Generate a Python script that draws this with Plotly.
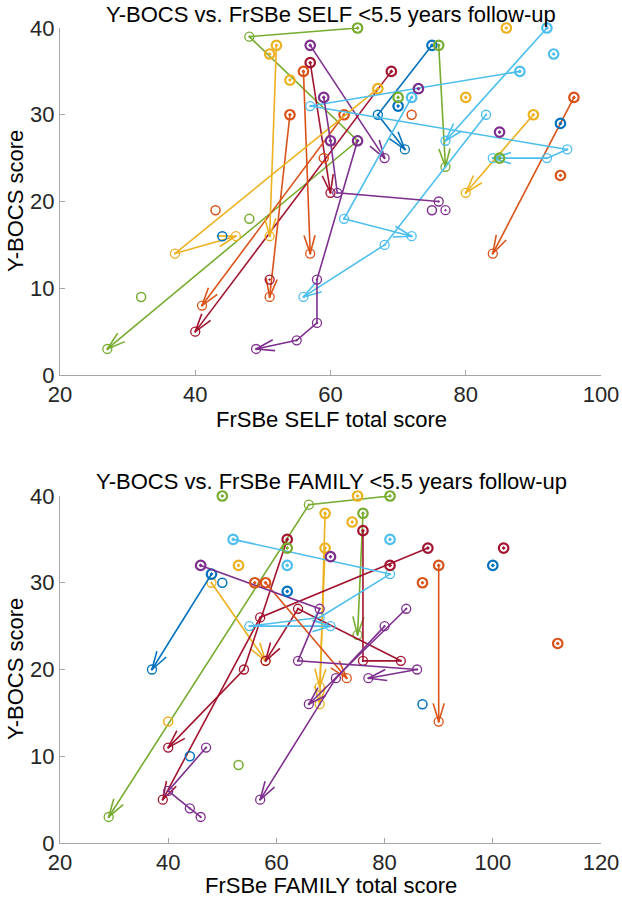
import math
import plotly.graph_objects as go

# ---------------- colours (MATLAB default order) ----------------
PALETTE = {
    "blue": "#0072BD", "orange": "#D95319", "yellow": "#EDB120",
    "purple": "#7E2F8E", "green": "#77AC30", "lblue": "#4DBEEE", "dred": "#A2142F",
}

# ---------------- top panel: FrSBe SELF ----------------
top_track_x = [[64, 48, 64, 27], [57, 68], [57, 60], [69, 40], [56, 57], [54, 51], [62, 41], [96, 84],
               [52, 51], [67, 37, 46], [90, 80], [75, 67, 71], [76, 77], [88, 57, 95, 92, 84],
               [92, 77], [72, 62, 72], [83, 68, 56], [64, 58, 58, 55, 49], [59, 60, 61, 76]]
top_track_y = [[40, 39, 27, 3], [38, 25], [36, 21], [35, 5], [35, 14], [30, 9], [30, 8], [32, 14],
               [38, 16], [33, 14, 16], [30, 21], [38, 30, 26], [38, 24], [35, 31, 26, 25, 25],
               [40, 27], [32, 18, 16], [30, 15, 9], [27, 11, 6, 4, 3], [32, 27, 21, 20]]
top_track_color = ["green", "purple", "dred", "dred", "orange", "orange", "orange", "orange",
                   "yellow", "yellow", "yellow", "blue", "green", "lblue",
                   "lblue", "lblue", "lblue", "purple", "purple"]
top_track_arrow = [True] * 18 + [False]
top_track_style = ["bttt", "bt", "bt", "bt", "bt", "bt", "bt", "bt",
                   "bt", "btt", "bt", "btt", "bt", "btttt",
                   "bt", "btt", "ttt", "btttt", "bbtt"]

top_single_x = [51, 54, 86, 80, 72, 43, 94, 59, 51, 75, 77, 73, 85, 70, 94, 44, 70, 85, 48, 32, 93]
top_single_y = [37, 34, 40, 32, 30, 19, 23, 25, 11, 19, 19, 33, 28, 31, 29, 16, 32, 25, 18, 9, 37]
top_single_color = ["yellow", "yellow", "yellow", "yellow", "orange", "orange", "orange", "orange",
                    "dred", "purple", "purple", "purple", "purple", "blue", "blue", "blue",
                    "green", "green", "green", "green", "lblue"]
top_single_style = "bbbboobototbbbbobboob"

# ---------------- bottom panel: FrSBe FAMILY ----------------
bot_track_x = [[81, 66, 29], [76, 75], [69, 68], [69, 68], [48, 58], [76, 76, 83, 64, 58],
               [88, 57, 39], [62, 54, 40], [52, 81, 68, 55, 70], [48, 37], [58, 73], [90, 90],
               [46, 68, 64, 86, 77], [84, 66], [80, 71, 57], [47, 40, 44, 46]]
bot_track_y = [[40, 39, 3], [38, 24], [38, 16], [34, 18], [30, 21], [36, 21, 21, 27, 21],
               [34, 26, 5], [35, 20, 11], [35, 31, 26, 25, 25], [31, 20], [30, 19], [32, 14],
               [32, 27, 21, 20, 19], [27, 16], [25, 19, 5], [11, 6, 4, 3]]
bot_track_color = ["green", "green", "yellow", "yellow", "yellow", "dred",
                   "dred", "dred", "lblue", "blue", "orange", "orange",
                   "purple", "purple", "purple", "purple"]
bot_track_arrow = [True] * 15 + [False]
bot_track_style = ["btt", "bt", "bt", "bt", "tt", "btttt",
                   "btt", "btt", "btttt", "bt", "bt", "bt",
                   "btttt", "tt", "ttt", "tttt"]

bot_single_x = [50, 62, 53, 75, 74, 53, 40, 81, 102, 81, 62, 62, 100, 50, 44, 87, 56, 87, 112, 70]
bot_single_y = [40, 34, 9, 40, 37, 32, 14, 32, 34, 35, 32, 29, 32, 30, 10, 16, 30, 30, 23, 33]
bot_single_color = ["green", "green", "green", "yellow", "yellow", "yellow", "yellow", "dred", "dred",
                    "lblue", "lblue", "blue", "blue", "blue", "blue", "blue",
                    "orange", "orange", "orange", "purple"]
bot_single_style = "bbobbbobbbbbbooobbbb"

# ---------------- layout geometry ----------------
W, H = 622, 900
ML, MR, MT, MB = 60, 21, 28, 57
PW, PH = W - ML - MR, H - MT - MB
AX_H = 347
top_dom = [1 - AX_H / PH, 1.0]
bot_dom = [0.0, AX_H / PH]

panels = [
    dict(tx=top_track_x, ty=top_track_y, tc=top_track_color, ta=top_track_arrow, ts=top_track_style,
         sx=top_single_x, sy=top_single_y, sc=top_single_color, ss=top_single_style,
         xr=[20, 100], yr=[0, 40], xa="x", ya="y"),
    dict(tx=bot_track_x, ty=bot_track_y, tc=bot_track_color, ta=bot_track_arrow, ts=bot_track_style,
         sx=bot_single_x, sy=bot_single_y, sc=bot_single_color, ss=bot_single_style,
         xr=[20, 120], yr=[0, 40], xa="x2", ya="y2"),
]

STYLE = {
    "b": dict(symbol="circle-open-dot", size=9.5, width=2.2),
    "t": dict(symbol="circle-open-dot", size=9, width=1.3),
    "o": dict(symbol="circle-open", size=9, width=1.5),
}

HEAD_LEN = 19.0
HEAD_ANG = math.radians(17)

fig = go.Figure()

for p in panels:
    kx = PW / (p["xr"][1] - p["xr"][0])
    ky = AX_H / (p["yr"][1] - p["yr"][0])
    for xs, ys, c, arr, st in zip(p["tx"], p["ty"], p["tc"], p["ta"], p["ts"]):
        col = PALETTE[c]
        fig.add_trace(go.Scatter(
            x=xs, y=ys, mode="lines", line=dict(color=col, width=1.6),
            xaxis=p["xa"], yaxis=p["ya"], cliponaxis=False, hoverinfo="skip"))
        for s in "bto":
            idx = [i for i, ch in enumerate(st) if ch == s]
            if not idx:
                continue
            fig.add_trace(go.Scatter(
                x=[xs[i] for i in idx], y=[ys[i] for i in idx], mode="markers",
                marker=dict(symbol=STYLE[s]["symbol"], size=STYLE[s]["size"], color=col,
                            line=dict(color=col, width=STYLE[s]["width"])),
                xaxis=p["xa"], yaxis=p["ya"], cliponaxis=False))
        if arr:
            x0, y0, x1, y1 = xs[-2], ys[-2], xs[-1], ys[-1]
            dx, dy = (x1 - x0) * kx, (y1 - y0) * ky
            n = math.hypot(dx, dy)
            ux, uy = dx / n, dy / n
            hx, hy = [], []
            for sgn in (1, -1):
                ca, sa = math.cos(sgn * HEAD_ANG), math.sin(sgn * HEAD_ANG)
                rx, ry = ux * ca - uy * sa, ux * sa + uy * ca
                hx += [x1 - HEAD_LEN * rx / kx, x1, None]
                hy += [y1 - HEAD_LEN * ry / ky, y1, None]
            fig.add_trace(go.Scatter(
                x=hx, y=hy, mode="lines", line=dict(color=col, width=1.6),
                xaxis=p["xa"], yaxis=p["ya"], cliponaxis=False, hoverinfo="skip"))
    for i, s in enumerate(p["ss"]):
        col = PALETTE[p["sc"][i]]
        fig.add_trace(go.Scatter(
            x=[p["sx"][i]], y=[p["sy"][i]], mode="markers",
            marker=dict(symbol=STYLE[s]["symbol"], size=STYLE[s]["size"], color=col,
                        line=dict(color=col, width=STYLE[s]["width"])),
            xaxis=p["xa"], yaxis=p["ya"], cliponaxis=False))

FONT = "Liberation Sans"
axis_common = dict(showline=True, linecolor="#a6a6a6", linewidth=1, mirror=False,
                   ticks="inside", ticklen=5, tickcolor="#a6a6a6", showgrid=False,
                   zeroline=False, automargin=False,
                   tickfont=dict(family=FONT, size=22, color="#262626"))

fig.update_layout(
    template="none",
    width=W, height=H, showlegend=False, plot_bgcolor="white", paper_bgcolor="white",
    margin=dict(l=ML, r=MR, t=MT, b=MB, autoexpand=False),
    xaxis=dict(domain=[0, 1], range=[20, 100], tickvals=[20, 40, 60, 80, 100], anchor="y", **axis_common),
    yaxis=dict(domain=top_dom, range=[0, 40], tickvals=[0, 10, 20, 30, 40], anchor="x", **axis_common),
    xaxis2=dict(domain=[0, 1], range=[20, 120], tickvals=[20, 40, 60, 80, 100, 120], anchor="y2", **axis_common),
    yaxis2=dict(domain=bot_dom, range=[0, 40], tickvals=[0, 10, 20, 30, 40], anchor="x2", **axis_common),
)

def py(pix):
    return (H - MB - pix) / PH

def px(pix):
    return (pix - ML) / PW

texts = [
    ("Y-BOCS vs. FrSBe SELF <5.5 years follow-up", px(331), py(14), 0, "middle"),
    ("FrSBe SELF total score", px(331), py(419), 0, "middle"),
    ("Y-BOCS score", px(15), py(201), -90, "middle"),
    ("Y-BOCS vs. FrSBe FAMILY <5.5 years follow-up", px(331), py(481), 0, "middle"),
    ("FrSBe FAMILY total score", px(331), py(900), 0, "bottom"),
    ("Y-BOCS score", px(15), py(669), -90, "middle"),
]
for t, x, y, ang, ya in texts:
    fig.add_annotation(text=t, x=x, y=y, xref="paper", yref="paper", showarrow=False,
                       xanchor="center", yanchor=ya, textangle=ang,
                       font=dict(family=FONT, size=22, color="#000000"))

fig.write_html("out.html", config={"displayModeBar": False},
               post_script="document.body.style.margin='0px';document.body.style.overflow='hidden';")
